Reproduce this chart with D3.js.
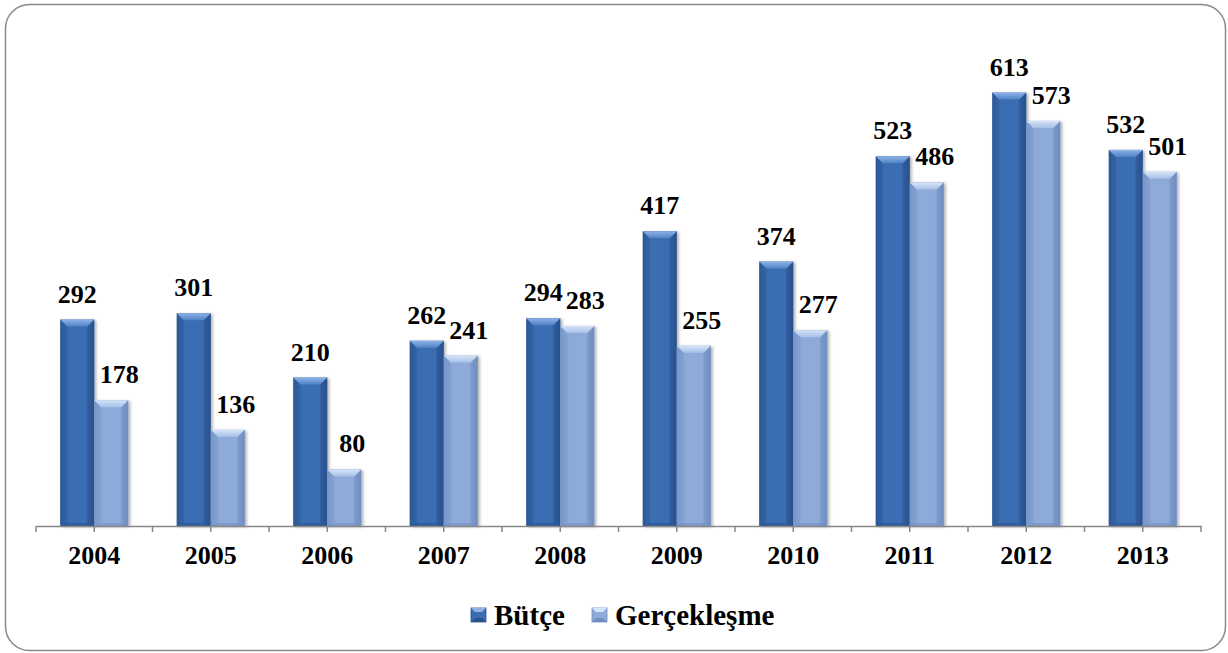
<!DOCTYPE html>
<html><head><meta charset="utf-8">
<script src="https://cdn.jsdelivr.net/npm/d3@7"></script>
<style>html,body{margin:0;padding:0;background:#fff;}svg{display:block;}</style>
</head><body>
<svg id="chart" width="1228" height="653"></svg>
<script>
const years = ["2004","2005","2006","2007","2008","2009","2010","2011","2012","2013"];
const series = ["Bütçe","Gerçekleşme"];
const butce = [292,301,210,262,294,417,374,523,613,532];
const gerceklesme = [178,136,80,241,283,255,277,486,573,501];

const svg = d3.select("#chart");
const defs = svg.append("defs");
const FONT = "Liberation Serif";

const colors = {
  "Bütçe": {edge:"#28518d", mid:"#3b6db2", hiA:"#4f82c6", hiB:"#8fb3e6", side:"#30609f", bot:"#2a5390"},
  "Gerçekleşme": {edge:"#6f8dc1", mid:"#8eaad8", hiA:"#a6c0e8", hiB:"#d6e4f8", side:"#809dcf", bot:"#7590c4"}
};
series.forEach((s,i)=>{
  const c = colors[s];
  const g = defs.append("linearGradient").attr("id","body"+i).attr("x1",0).attr("x2",1).attr("y1",0).attr("y2",0);
  g.append("stop").attr("offset","0%").attr("stop-color",c.edge);
  g.append("stop").attr("offset","25%").attr("stop-color",c.mid);
  g.append("stop").attr("offset","75%").attr("stop-color",c.mid);
  g.append("stop").attr("offset","100%").attr("stop-color",c.edge);
  const t = defs.append("linearGradient").attr("id","top"+i).attr("x1",0).attr("x2",0).attr("y1",0).attr("y2",1);
  t.append("stop").attr("offset","0%").attr("stop-color",c.hiB);
  t.append("stop").attr("offset","100%").attr("stop-color",c.hiA);
});
const f = defs.append("filter").attr("id","shadow").attr("x","-20%").attr("y","-5%").attr("width","150%").attr("height","115%");
f.append("feDropShadow").attr("dx",2).attr("dy",1).attr("stdDeviation",1.8).attr("flood-color","#000").attr("flood-opacity",0.3);

// border
svg.append("rect").attr("x",5.5).attr("y",4.5).attr("width",1220).attr("height",646)
  .attr("rx",24).attr("ry",24).attr("fill","#fff").attr("stroke","#8a8a8a").attr("stroke-width",1.5);

const x0 = d3.scaleBand().domain(years).range([36,1201]).padding(0);
const x1 = d3.scaleBand().domain(series).range([0, x0.bandwidth()]).paddingInner(0).paddingOuter(0.713);
const y = d3.scaleLinear().domain([0,700]).range([526, 526-700*0.707]);

const data = years.map((yr,i)=>({year:yr, values:[{s:series[0], v:butce[i], k:0},{s:series[1], v:gerceklesme[i], k:1}]}));

const groups = svg.append("g").selectAll("g").data(data).join("g")
  .attr("transform", d=>`translate(${x0(d.year)},0)`);

const bars = groups.selectAll("g.bar").data(d=>d.values).join("g").attr("class","bar");
bars.each(function(d){
  const g = d3.select(this);
  const bx = x1(d.s), bw = x1.bandwidth(), top = y(d.v), bot = y(0);
  const c = colors[d.s];
  const b = 7;
  g.append("rect").attr("x",bx).attr("y",top).attr("width",bw).attr("height",bot-top)
    .attr("fill",`url(#body${d.k})`).attr("filter","url(#shadow)");
  g.append("polygon").attr("points",[[bx,top],[bx+b,top+b],[bx+b,bot-2],[bx,bot]].join(" "))
    .attr("fill",c.side).attr("opacity",0.5);
  g.append("polygon").attr("points",[[bx+bw,top],[bx+bw-b,top+b],[bx+bw-b,bot-2],[bx+bw,bot]].join(" "))
    .attr("fill",c.edge).attr("opacity",0.45);
  g.append("polygon").attr("points",[[bx,bot],[bx+b,bot-3],[bx+bw-b,bot-3],[bx+bw,bot]].join(" "))
    .attr("fill",c.bot).attr("opacity",0.6);
  g.append("polygon").attr("points",[[bx,top],[bx+bw,top],[bx+bw-b,top+b],[bx+b,top+b]].join(" "))
    .attr("fill",`url(#top${d.k})`);
});

// value labels
groups.selectAll("text.val").data(d=>d.values).join("text").attr("class","val")
  .attr("x", d=>x1(d.s)+x1.bandwidth()/2 + (d.k===1?8:0))
  .attr("y", d=>y(d.v)-17)
  .attr("text-anchor","middle")
  .attr("font-family",FONT).attr("font-weight","bold").attr("font-size",26)
  .attr("fill","#000")
  .text(d=>d.v);

// axis
const axisG = svg.append("g").attr("transform",`translate(0,${y(0)})`);
axisG.call(d3.axisBottom(x0).tickSize(0).tickPadding(20));
axisG.attr("font-family",FONT);
axisG.select(".domain").attr("stroke","#888").attr("stroke-width",1.5);
axisG.selectAll(".tick text")
  .attr("font-family",FONT).attr("font-weight","bold").attr("font-size",26).attr("fill","#000");
const tickPos = [];
years.forEach(yr=>{ tickPos.push(x0(yr)); tickPos.push(x0(yr)+x0.bandwidth()/2); });
tickPos.push(x0.range()[1]);
axisG.selectAll("line.tk").data(tickPos).join("line").attr("class","tk")
  .attr("x1",d=>d).attr("x2",d=>d).attr("y1",0).attr("y2",6)
  .attr("stroke","#888").attr("stroke-width",1.5);

// legend
const legend = svg.append("g").attr("transform","translate(0,625)");
const legItems = [{s:series[0],k:0,x:471},{s:series[1],k:1,x:592}];
legItems.forEach(it=>{
  const c = colors[it.s];
  const lg = legend.append("g").attr("transform",`translate(${it.x},0)`);
  lg.append("rect").attr("x",0).attr("y",-17).attr("width",15).attr("height",14).attr("fill",c.mid).attr("stroke",c.edge).attr("stroke-width",0.8);
  lg.append("polygon").attr("points","0,-17 15,-17 11,-13 4,-13").attr("fill",c.hiB);
  lg.append("polygon").attr("points","0,-3 15,-3 11,-7 4,-7").attr("fill",c.edge);
  lg.append("text").attr("x",23).attr("y",0)
    .attr("font-family",FONT).attr("font-weight","bold").attr("font-size",29)
    .attr("fill","#000").text(it.s);
});
</script>
</body></html>
